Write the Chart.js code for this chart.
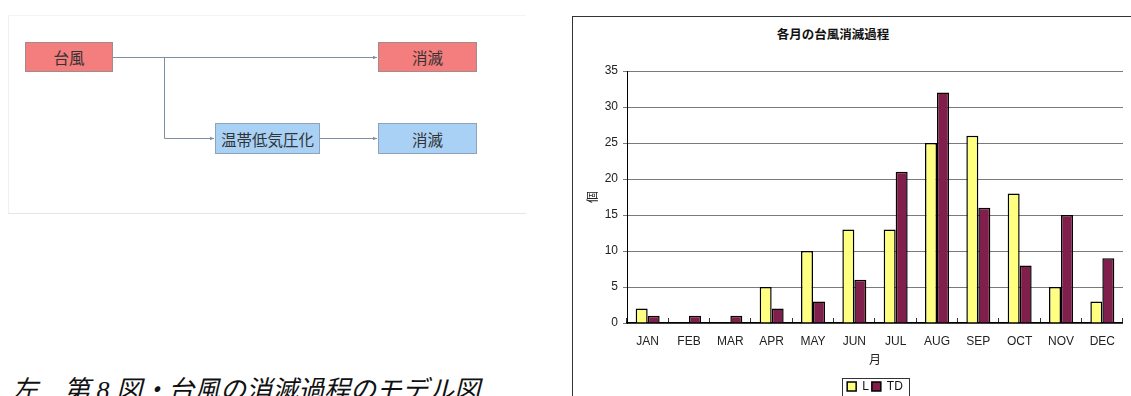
<!DOCTYPE html>
<html lang="ja">
<head>
<meta charset="utf-8">
<title>台風の消滅過程</title>
<script src="https://cdn.jsdelivr.net/npm/chart.js@4.4.1/dist/chart.umd.min.js"></script>
<style>
  html, body { margin: 0; padding: 0; background: #fff; }
  body { width: 1131px; height: 396px; overflow: hidden; position: relative; font-family: "Noto Sans CJK JP", sans-serif; }
  .panel { position: absolute; left: 8px; top: 15px; width: 517px; height: 197px;
           border-top: 1px solid #f3f4f6; border-left: 1px solid #eef0f3; border-bottom: 1px solid #e3e6ea; }
  .box { position: absolute; box-sizing: border-box; display: flex; align-items: center; justify-content: center;
         font-size: 15.5px; color: #333; }
  .red { background: #f47d7d; border: 1px solid #a08c8c; }
  .blue { background: #a9d1f6; border: 1px solid #8ea3b8; }
  #flow { position: absolute; left: 0; top: 0; }
  .caption { position: absolute; left: 12px; top: 378px; font-size: 26px; line-height: 26px; font-style: italic;
             font-family: "Liberation Serif", "Noto Sans CJK JP", serif; color: #111; white-space: nowrap; }
  .frame { position: absolute; left: 572px; top: 16px; width: 700px; height: 500px;
           border-top: 1px solid #333; border-left: 1px solid #333; }
  .chart-title { position: absolute; left: 733px; width: 200px; top: 24px; text-align: center;
                 font-size: 12.5px; font-weight: bold; color: #111; }
  #chart { position: absolute; left: 572px; top: 16px; }
</style>
</head>
<body>
<!-- flow model: typhoon -> dissipation / extratropical transition -> dissipation -->
<div class="panel"></div>
<svg id="flow" width="540" height="220">
  <defs>
    <marker id="arr" markerWidth="5" markerHeight="5" refX="4.5" refY="2.5" orient="auto" markerUnits="userSpaceOnUse">
      <path d="M0,0.5 L4.5,2.5 L0,4.5 z" fill="#7d8fa3"/>
    </marker>
  </defs>
  <g stroke="#7d8fa3" stroke-width="1" fill="none">
    <path d="M113 57.5 H377" marker-end="url(#arr)"/>
    <path d="M164.5 57.5 V138.5 H214" marker-end="url(#arr)"/>
    <path d="M320 138.5 H377" marker-end="url(#arr)"/>
  </g>
</svg>
<div class="box red" style="left:25px; top:42px; width:88px; height:30px;">台風</div>
<div class="box red" style="left:378px; top:42px; width:99px; height:30px;">消滅</div>
<div class="box blue" style="left:215px; top:123px; width:105px; height:31px;">温帯低気圧化</div>
<div class="box blue" style="left:378px; top:123px; width:99px; height:31px;">消滅</div>
<div class="caption">左　第 8 図・台風の消滅過程のモデル図</div>

<div class="frame"></div>
<div class="chart-title">各月の台風消滅過程</div>
<canvas id="chart" width="559" height="400"></canvas>

<script>
// 月別の消滅数（L と TD）
const months = ['JAN', 'FEB', 'MAR', 'APR', 'MAY', 'JUN', 'JUL', 'AUG', 'SEP', 'OCT', 'NOV', 'DEC'];
const countL = [2, 0, 0, 5, 10, 13, 13, 25, 26, 18, 5, 3];
const countTD = [1, 1, 1, 2, 3, 6, 21, 32, 16, 8, 15, 9];
const yMax = 35;
const yStep = 5;

const latin = '"Liberation Sans", Arial, sans-serif';
const jp = '"Noto Sans CJK JP", sans-serif';

// 凡例の外枠
const legendFrame = {
  id: 'legendFrame',
  afterDraw(chart) {
    const lg = chart.legend;
    if (!lg || !lg.legendHitBoxes || !lg.legendHitBoxes.length) return;
    const hb = lg.legendHitBoxes;
    const left = Math.min(...hb.map(h => h.left)) - 5;
    const right = Math.max(...hb.map(h => h.left + h.width)) + 6;
    const top = hb[0].top - 3;
    const ctx = chart.ctx;
    ctx.save();
    ctx.strokeStyle = '#333';
    ctx.lineWidth = 1;
    ctx.strokeRect(Math.round(left) + 0.5, Math.round(top) + 0.5, Math.round(right - left), 40);
    ctx.restore();
  }
};

new Chart(document.getElementById('chart'), {
  type: 'bar',
  data: {
    labels: months,
    datasets: [
      { label: 'L', data: countL, backgroundColor: '#ffff80', borderColor: '#000', borderWidth: 1.5,
        categoryPercentage: 0.58, barPercentage: 1.0 },
      { label: 'TD', data: countTD, backgroundColor: '#801f4b', borderColor: '#000', borderWidth: 1.5,
        categoryPercentage: 0.58, barPercentage: 1.0 }
    ]
  },
  options: {
    responsive: false,
    animation: false,
    layout: { padding: { top: 55, left: 0, right: 0, bottom: 13.5 } },
    plugins: {
      title: { display: false },
      tooltip: { enabled: false },
      legend: {
        position: 'bottom',
        fullSize: false,
        labels: { boxWidth: 9, boxHeight: 9, padding: 3, color: '#111', font: { family: latin, size: 12 } }
      }
    },
    scales: {
      x: {
        grid: { display: true, offset: true, drawOnChartArea: false, drawTicks: true, tickLength: -5, color: '#333' },
        border: { color: '#000', width: 1.5 },
        ticks: { padding: 16, color: '#222', font: { family: latin, size: 12 } },
        title: { display: true, text: '月', color: '#222', padding: { top: 0, bottom: 11.3 }, font: { family: jp, size: 12 } },
        afterFit(s) { s.height = 54.5; }
      },
      y: {
        min: 0,
        max: yMax,
        grid: { color: '#7a7a7a', lineWidth: 1, tickLength: 4 },
        border: { color: '#000', width: 1 },
        ticks: { stepSize: yStep, padding: 5, color: '#222', font: { family: latin, size: 12 } },
        title: { display: true, text: '個', color: '#222', padding: { top: 13, bottom: 0 }, font: { family: jp, size: 12 } },
        afterFit(s) { s.width = 55; }
      }
    }
  },
  plugins: [legendFrame]
});
</script>
</body>
</html>
